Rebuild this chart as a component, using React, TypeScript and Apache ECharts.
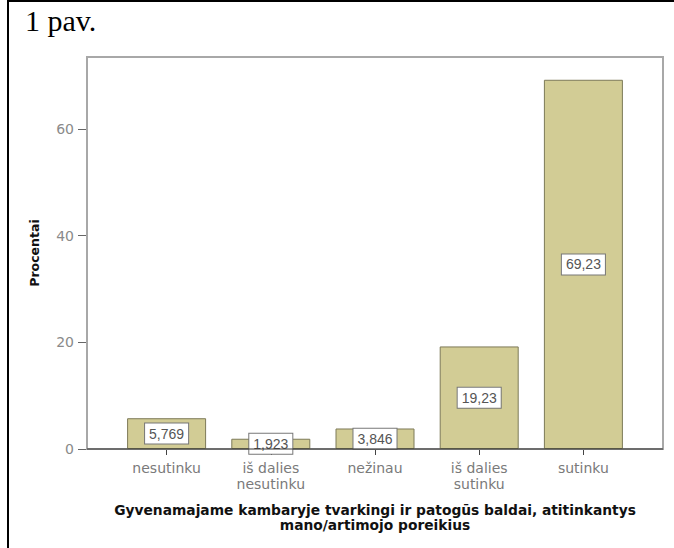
import React, { useEffect, useRef } from "react";
import * as echarts from "echarts";

const categories = ["nesutinku", "iš dalies\nnesutinku", "nežinau", "iš dalies\nsutinku", "sutinku"];
const percents = [5.769, 1.923, 3.846, 19.23, 69.23];
const figureLabel = "1 pav.";
const yTitle = "Procentai";
const xTitle = "Gyvenamajame kambaryje tvarkingi ir patogūs baldai, atitinkantys\nmano/artimojo poreikius";

export default function App() {
  const ref = useRef<HTMLDivElement>(null);
  useEffect(() => {
    if (!ref.current) return;
    const chart = echarts.init(ref.current, undefined, { renderer: "svg" });
    const font = "'Liberation Sans', Arial, sans-serif";
    const wide = "'DejaVu Sans', Verdana, sans-serif";
    chart.setOption({
      animation: false,
      backgroundColor: "#ffffff",
      grid: { left: 114.5, right: 38.5, top: 57, bottom: 99, containLabel: false },
      xAxis: {
        type: "category",
        data: categories,
        axisLine: { show: false },
        axisTick: { show: true, alignWithLabel: true, length: 6, lineStyle: { color: "#444" } },
        axisLabel: { color: "#7a7a7a", fontSize: 14, fontFamily: wide, lineHeight: 16, margin: 11, interval: 0 },
        name: xTitle,
        nameLocation: "middle",
        nameGap: 53,
        nameTextStyle: { color: "#111", fontSize: 13.8, fontWeight: "bold", fontFamily: wide, lineHeight: 15.5 },
      },
      yAxis: {
        type: "value",
        min: 0,
        max: 73.5,
        interval: 20,
        offset: 27.5,
        splitLine: { show: false },
        axisLine: { show: true, lineStyle: { color: "#666", width: 1 } },
        axisTick: { show: true, length: 9, lineStyle: { color: "#666" } },
        axisLabel: { color: "#8a8a8a", fontSize: 14, fontFamily: wide, margin: 13, showMaxLabel: false },
        name: yTitle,
        nameLocation: "middle",
        nameGap: 46,
        nameTextStyle: { color: "#111", fontSize: 12.5, fontWeight: "bold", fontFamily: wide },
      },
      series: [
        {
          type: "bar",
          data: percents,
          barWidth: 79,
          itemStyle: { color: "#d2cc95", borderColor: "#7d7a58", borderWidth: 1 },
          label: {
            show: true,
            position: "inside",
            formatter: (p: any) => String(p.value).replace(".", ","),
            color: "#555",
            fontSize: 14,
            fontFamily: font,
            backgroundColor: "#ffffff",
            borderColor: "#777",
            borderWidth: 1,
            padding: [3, 4],
          },
        },
      ],
      graphic: [
        { type: "rect", shape: { x: 87, y: 57, width: 576, height: 392 }, style: { fill: "none", stroke: "#a8a8a8", lineWidth: 2 }, z: 1 },
        { type: "line", shape: { x1: 87, y1: 449, x2: 663, y2: 449 }, style: { stroke: "#333", lineWidth: 1 }, z: 10 },
        { type: "line", shape: { x1: 8, y1: 0, x2: 8, y2: 548 }, style: { stroke: "#000", lineWidth: 2 } },
        { type: "line", shape: { x1: 7, y1: 1, x2: 674, y2: 1 }, style: { stroke: "#000", lineWidth: 2 } },
        { type: "text", x: 25, y: 5, style: { text: figureLabel, fontSize: 30, fontFamily: "'Liberation Serif', 'Times New Roman', serif", fill: "#000" } },
      ],
    });
    return () => chart.dispose();
  }, []);
  return <div ref={ref} style={{ position: "fixed", left: 0, top: 0, width: 674, height: 548 }} />;
}
